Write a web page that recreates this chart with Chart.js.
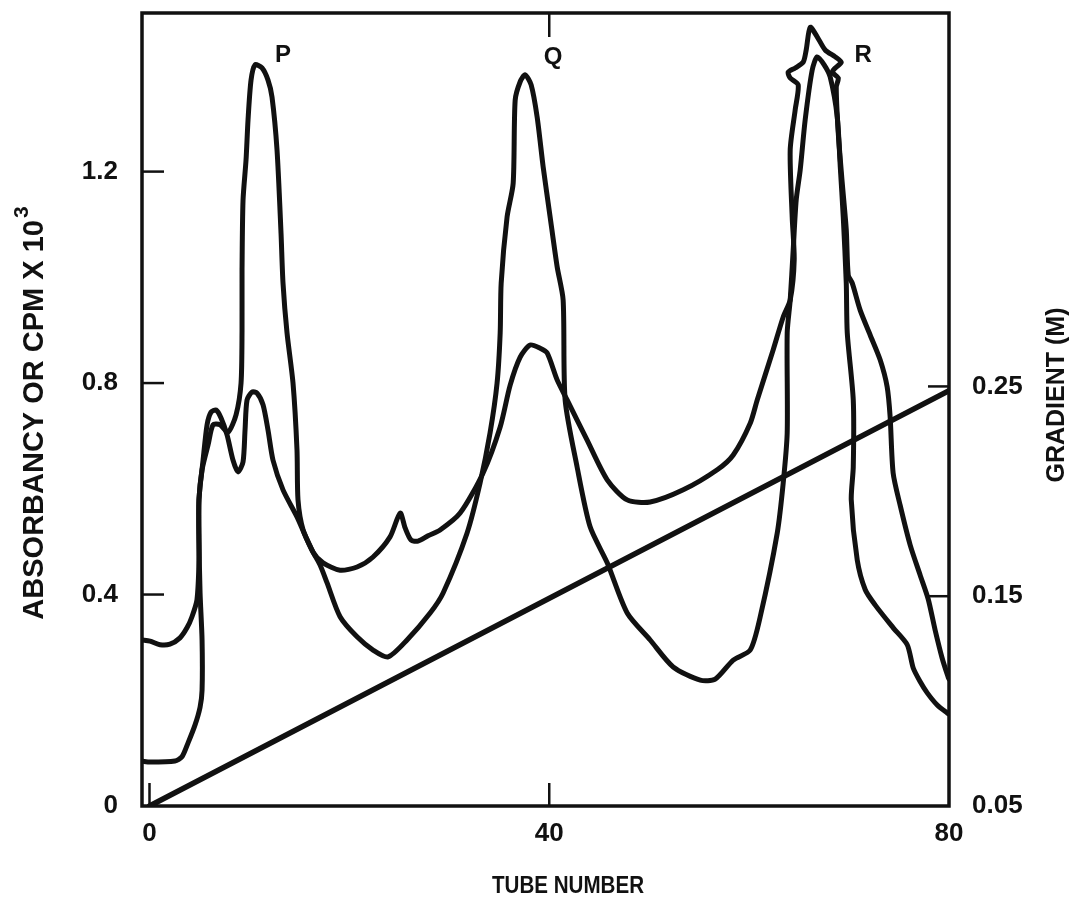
<!DOCTYPE html>
<html>
<head>
<meta charset="utf-8">
<script src="https://cdn.jsdelivr.net/npm/chart.js@4.4.1/dist/chart.umd.min.js"></script>
<style>
  html, body { margin: 0; padding: 0; background: #fff; }
  #wrap { width: 1074px; height: 907px; }
</style>
</head>
<body>
<div id="wrap"><canvas id="c" width="1074" height="907"></canvas></div>
<script>
// ---- data ----
const tubesA = [-0.75,0.05,2.55,3.25,3.85,4.55,5.06,5.26,5.26,5.06,4.95,4.95,5.26,5.86,6.36,7.06,7.86,8.66,9.16,9.26,9.26,9.36,9.66,9.86,10.16,10.56,11.26,11.86,12.26,12.76,13.16,13.36,13.76,14.36,14.76,14.86,15.37,16.37,17.07,17.77,19.07,20.77,22.37,23.87,25.77,28.08,29.38,31.77,33.08,34.08,34.78,35.09,35.19,35.78,36.39,36.59,37.09,37.59,38.19,38.79,39.39,40.09,40.79,41.39,41.59,42.79,44.09,45.8,47.8,50.1,52.4,55.11,56.61,58.41,60.11,61.11,62.81,63.41,63.81,63.81,64.11,64.41,64.71,65.11,65.61,66.31,66.81,67.51,68.11,68.82,69.12,69.42,69.72,69.82,70.42,70.42,70.22,70.82,71.62,72.62,74.42,75.82,76.42,77.12,77.82,78.82,79.82,80];
const absorbA = [0.085,0.083,0.085,0.093,0.119,0.153,0.187,0.219,0.314,0.403,0.503,0.579,0.636,0.683,0.721,0.721,0.707,0.74,0.8,0.9,1.014,1.146,1.222,1.298,1.373,1.402,1.396,1.373,1.341,1.241,1.084,0.989,0.895,0.8,0.673,0.579,0.522,0.48,0.456,0.422,0.358,0.32,0.295,0.282,0.314,0.365,0.403,0.516,0.611,0.706,0.8,0.895,0.989,1.114,1.178,1.335,1.37,1.383,1.364,1.303,1.209,1.114,1.02,0.957,0.768,0.641,0.528,0.46,0.365,0.314,0.263,0.238,0.24,0.276,0.295,0.358,0.516,0.611,0.706,0.895,0.957,1.052,1.146,1.203,1.298,1.392,1.417,1.402,1.379,1.303,1.209,1.114,0.989,0.895,0.768,0.641,0.579,0.465,0.409,0.38,0.337,0.305,0.261,0.235,0.214,0.191,0.176,0.174];

const tubesB = [-0.75,0.05,1.05,2.05,3.05,3.75,4.25,4.75,4.95,4.95,5.36,5.76,6.16,6.66,7.16,7.76,8.36,8.86,9.36,9.56,9.76,10.26,10.76,11.36,11.86,12.36,13.36,14.76,16.37,17.37,19.07,20.77,22.37,24.07,25.08,25.58,26.17,26.87,27.87,29.08,31.08,33.38,35.09,36.09,37.09,38.09,39.09,39.79,40.79,41.79,43.79,45.8,47.8,50.1,53.41,56.81,58.41,60.11,60.81,62.41,63.41,64.11,64.51,64.31,64.11,64.61,64.91,64.11,63.91,64.61,65.41,65.71,66.11,66.81,67.61,68.62,69.22,68.62,68.32,68.92,68.72,68.92,69.32,69.72,69.92,70.32,71.11,72.11,73.11,73.81,74.11,74.41,75.11,76.11,77.11,77.91,78.61,79.31,79.91,80];
const cpmB = [0.314,0.312,0.305,0.306,0.318,0.337,0.358,0.39,0.465,0.579,0.654,0.721,0.745,0.749,0.734,0.702,0.654,0.632,0.651,0.711,0.768,0.783,0.781,0.759,0.711,0.654,0.598,0.547,0.48,0.46,0.446,0.452,0.471,0.509,0.554,0.526,0.503,0.501,0.511,0.522,0.554,0.63,0.717,0.796,0.849,0.872,0.866,0.857,0.806,0.768,0.692,0.617,0.579,0.575,0.598,0.636,0.664,0.724,0.768,0.863,0.925,0.957,1.033,1.114,1.241,1.317,1.364,1.377,1.388,1.396,1.407,1.43,1.473,1.455,1.43,1.417,1.407,1.396,1.388,1.377,1.36,1.273,1.178,1.09,1.004,0.989,0.938,0.891,0.844,0.793,0.736,0.63,0.569,0.494,0.437,0.392,0.333,0.28,0.244,0.24];

const gradTubes = [0, 80];
const gradMolar = [0.05, 0.248];

const xTickValues = [0, 40, 80];
const xTickLabels = ['0', '40', '80'];
const yTickValues = [0, 0.4, 0.8, 1.2];
const yTickLabels = ['0', '0.4', '0.8', '1.2'];
const y2TickValues = [0.05, 0.15, 0.25];
const y2TickLabels = ['0.05', '0.15', '0.25'];

const peakNames = ['P', 'Q', 'R'];
const peakLabelTubes = [13.36, 40.39, 71.42];
const peakLabelValues = [1.419, 1.417, 1.419];

const xTitle = 'TUBE NUMBER';
const yTitle = 'ABSORBANCY OR CPM X 10';
const yTitleSup = '3';
const y2Title = 'GRADIENT (M)';

// ---- helpers ----
const pts = (xs, ys) => xs.map((x, i) => ({ x: x, y: ys[i] }));
const INK = '#111';
const FONT = "'Liberation Sans', Arial, Helvetica, sans-serif";

const decor = {
  id: 'decor',
  afterDatasetsDraw(chart) {
    const { ctx, chartArea: a, scales } = chart;
    const x = scales.x, y = scales.y, y2 = scales.y2;
    ctx.save();
    ctx.strokeStyle = INK;
    ctx.lineCap = 'butt';
    ctx.lineWidth = 3.5;
    ctx.strokeRect(a.left, a.top, a.right - a.left, a.bottom - a.top);
    ctx.lineWidth = 2.5;
    const seg = (x1, y1, x2, y2_) => { ctx.beginPath(); ctx.moveTo(x1, y1); ctx.lineTo(x2, y2_); ctx.stroke(); };
    yTickValues.forEach(v => { if (v > 0) { const p = y.getPixelForValue(v); seg(a.left, p, a.left + 22, p); } });
    y2TickValues.forEach(v => { if (v > 0.05) { const p = y2.getPixelForValue(v); seg(a.right - 21, p, a.right, p); } });
    xTickValues.forEach(v => { if (v < 80) { const p = x.getPixelForValue(v); seg(p, a.bottom, p, a.bottom - 23); } });
    { const p = x.getPixelForValue(40); seg(p, a.top, p, a.top + 24); }

    ctx.fillStyle = INK;
    ctx.font = 'bold 24px ' + FONT;
    ctx.textAlign = 'center';
    ctx.textBaseline = 'middle';
    peakNames.forEach((n, i) => {
      ctx.fillText(n, x.getPixelForValue(peakLabelTubes[i]), y.getPixelForValue(peakLabelValues[i]));
    });
    ctx.font = 'bold 24px ' + FONT;
    ctx.fillText(xTitle, 568, 886, 152);
    ctx.save();
    ctx.translate(1057, 395);
    ctx.rotate(-Math.PI / 2);
    ctx.font = 'bold 25px ' + FONT;
    ctx.fillText(y2Title, 0, 0);
    ctx.restore();
    ctx.save();
    ctx.font = 'bold 29px ' + FONT;
    const w = ctx.measureText(yTitle).width;
    ctx.font = 'bold 21px ' + FONT;
    const ws = ctx.measureText(yTitleSup).width;
    const total = w + ws + 2;
    ctx.translate(35, 413);
    ctx.rotate(-Math.PI / 2);
    ctx.textAlign = 'left';
    ctx.font = 'bold 29px ' + FONT;
    ctx.fillText(yTitle, -total / 2, 0);
    ctx.font = 'bold 21px ' + FONT;
    ctx.fillText(yTitleSup, -total / 2 + w + 2, -13);
    ctx.restore();
    ctx.restore();
  }
};

const lineStyle = { borderColor: INK, borderWidth: 5, pointRadius: 0, tension: 0.25, fill: false, borderCapStyle: 'round', borderJoinStyle: 'round' };
const tickFont = { family: FONT, size: 26, weight: 'bold' };

new Chart(document.getElementById('c'), {
  type: 'line',
  data: {
    datasets: [
      Object.assign({ label: 'Gradient', data: pts(gradTubes, gradMolar), yAxisID: 'y2' }, lineStyle, { borderWidth: 5.5, tension: 0 }),
      Object.assign({ label: 'Absorbancy', data: pts(tubesA, absorbA), yAxisID: 'y' }, lineStyle),
      Object.assign({ label: 'CPM', data: pts(tubesB, cpmB), yAxisID: 'y' }, lineStyle)
    ]
  },
  options: {
    responsive: false,
    animation: false,
    layout: { padding: { top: 13, left: 0, right: 0, bottom: 0 } },
    plugins: { legend: { display: false }, tooltip: { enabled: false }, title: { display: false } },
    scales: {
      x: {
        type: 'linear', min: -0.75, max: 80,
        grid: { display: false, drawTicks: false },
        border: { display: false },
        afterBuildTicks: s => { s.ticks = xTickValues.map(v => ({ value: v })); },
        afterFit: s => { s.height = 101; s.paddingLeft = 0; s.paddingRight = 0; },
        ticks: { padding: 12, color: INK, font: tickFont, maxRotation: 0,
          callback: (v) => xTickLabels[xTickValues.indexOf(v)] }
      },
      y: {
        type: 'linear', position: 'left', min: 0, max: 1.5,
        grid: { display: false, drawTicks: false },
        border: { display: false },
        afterBuildTicks: s => { s.ticks = yTickValues.map(v => ({ value: v })); },
        afterFit: s => { s.width = 142; s.paddingTop = 0; s.paddingBottom = 0; },
        ticks: { padding: 24, color: INK, font: tickFont,
          callback: (v) => yTickLabels[yTickValues.indexOf(v)] }
      },
      y2: {
        type: 'linear', position: 'right', min: 0.05, max: 0.428,
        grid: { display: false, drawTicks: false },
        border: { display: false },
        afterBuildTicks: s => { s.ticks = y2TickValues.map(v => ({ value: v })); },
        afterFit: s => { s.width = 125; s.paddingTop = 0; s.paddingBottom = 0; },
        ticks: { padding: 23, color: INK, font: tickFont,
          callback: (v) => y2TickLabels[y2TickValues.indexOf(v)] }
      }
    }
  },
  plugins: [decor]
});
</script>
</body>
</html>
